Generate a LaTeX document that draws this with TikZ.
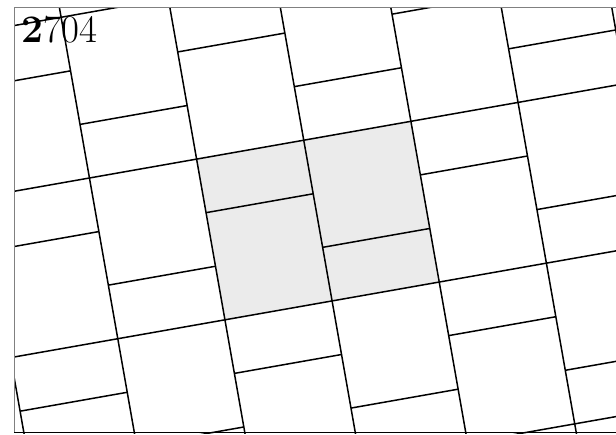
\documentclass[tikz,border=0pt]{standalone}
\begin{document}
\begin{tikzpicture}[x=0.5pt,y=-0.5pt,
  tileline/.style={line width=0.75pt, black},
  shadefill/.style={fill=black!8}]
\useasboundingbox (0,0) rectangle (616,434);
\begin{scope}
\clip (14,7) rectangle (620,433);
\begin{scope}[shift={(98.3pt,-79.55pt)}, x={(53.574pt,9.4465pt)}, y={(9.4465pt,-53.574pt)}]
  % shaded block
  \fill[shadefill] (0,0) -- (2,0) -- (2,1.5) -- (0,1.5) -- cycle;
  % column boundaries
  \foreach \c in {-3,...,5} {
    \draw[tileline] ({\c},-4) -- ({\c},5);
  }
  % even columns: edges at t = 0, 0.5 (mod 1.5)
  \foreach \c in {-4,-2,0,2,4} {
    \foreach \k in {-3,...,3} {
      \draw[tileline] ({\c},{1.5*\k}) -- ({\c+1},{1.5*\k});
      \draw[tileline] ({\c},{1.5*\k+0.5}) -- ({\c+1},{1.5*\k+0.5});
    }
  }
  % odd columns: edges at t = 0, 1 (mod 1.5)
  \foreach \c in {-3,-1,1,3} {
    \foreach \k in {-3,...,3} {
      \draw[tileline] ({\c},{1.5*\k}) -- ({\c+1},{1.5*\k});
      \draw[tileline] ({\c},{1.5*\k+1}) -- ({\c+1},{1.5*\k+1});
    }
  }
\end{scope}
\end{scope}
% frame
\draw[black!50, line width=0.5pt] (14,433) -- (14,7) -- (616,7);
\draw[black, line width=0.7pt] (14,432.6) -- (616,432.6);
% label
\node[anchor=base west, inner sep=0, font=\fontsize{19.5}{23}\selectfont] (lbl) at (21,42.3) {\textbf{2}704};
\end{tikzpicture}
\end{document}
